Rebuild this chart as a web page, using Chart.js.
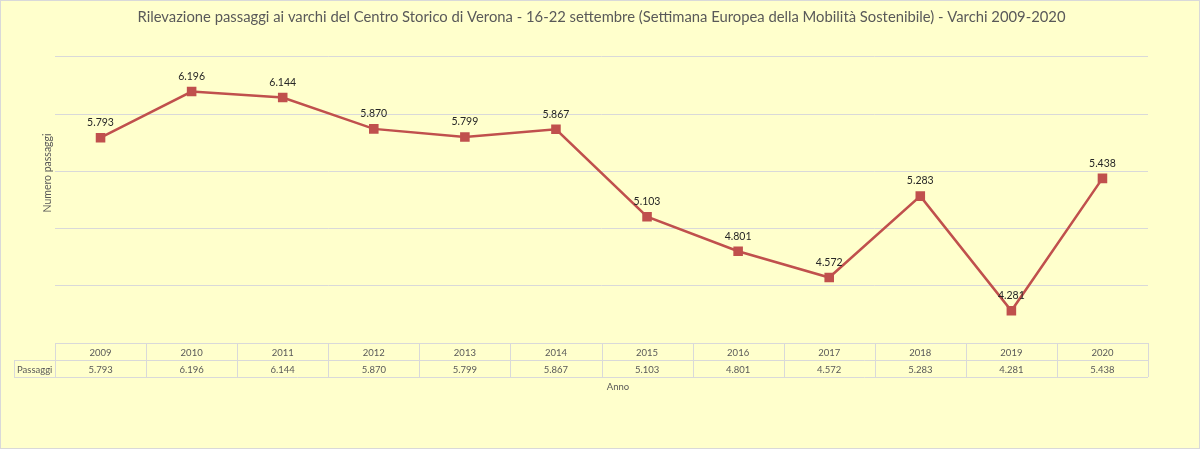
<!DOCTYPE html>
<html lang="it">
<head>
    <meta charset="UTF-8">
    <title>Varchi Centro Storico Verona</title>
    <script src="https://cdn.jsdelivr.net/npm/chart.js"></script>
    <style>
        html, body { margin: 0; padding: 0; background: #ffffcc; }
        #wrap { width: 1200px; height: 449px; }
    </style>
</head>
<body>
    <div id="wrap"><canvas id="varchiChart"></canvas></div>

    <script>
        // dati
        const anni = ["2009", "2010", "2011", "2012", "2013", "2014", "2015", "2016", "2017", "2018", "2019", "2020"];
        const passaggi = [5793, 6196, 6144, 5870, 5799, 5867, 5103, 4801, 4572, 5283, 4281, 5438];
        const nomeSerie = "Passaggi";
        const titolo = "Rilevazione passaggi ai varchi del Centro Storico di Verona - 16-22 settembre (Settimana Europea della Mobilità Sostenibile) - Varchi 2009-2020";
        const titoloY = "Numero passaggi";
        const titoloX = "Anno";

        const FONT = "Lato, 'Open Sans', sans-serif";
        const GRIGIO = "#595959";
        const LINEE = "#d9d9d9";

        function formatta(n) {
            return String(n).replace(/\B(?=(\d{3})+(?!\d))/g, ".");
        }

        // sfondo, bordo esterno e titolo asse Y (spostato in alto come nell'originale)
        const sfondo = {
            id: "sfondo",
            beforeDraw(chart) {
                const c = chart.ctx;
                c.save();
                c.fillStyle = "#ffffcc";
                c.fillRect(0, 0, chart.width, chart.height);
                c.strokeStyle = LINEE;
                c.lineWidth = 1;
                c.strokeRect(0.5, 0.5, chart.width - 1, chart.height - 1);

                c.translate(48, 173);
                c.rotate(-Math.PI / 2);
                c.font = "10.5px " + FONT;
                c.fillStyle = GRIGIO;
                c.textAlign = "center";
                c.textBaseline = "middle";
                c.fillText(titoloY, 0, 0);
                c.restore();
            }
        };

        // etichette sopra i punti
        const etichette = {
            id: "etichette",
            afterDatasetsDraw(chart) {
                const c = chart.ctx;
                const meta = chart.getDatasetMeta(0);
                c.save();
                c.font = "10.5px " + FONT;
                c.fillStyle = "#262626";
                c.textAlign = "center";
                c.textBaseline = "middle";
                meta.data.forEach((p, i) => {
                    c.fillText(formatta(passaggi[i]), p.x, p.y - 15);
                });
                c.restore();
            }
        };

        // tabella dati sotto il grafico
        const tabella = {
            id: "tabella",
            afterDraw(chart) {
                const c = chart.ctx;
                const x = chart.scales.x;
                const area = chart.chartArea;
                const w = x.getPixelForValue(1) - x.getPixelForValue(0);
                const top = area.bottom;
                const h = 17;
                const left = x.getPixelForValue(0) - w / 2;
                const right = x.getPixelForValue(anni.length - 1) + w / 2;
                const labelLeft = 14;

                c.save();
                c.strokeStyle = LINEE;
                c.lineWidth = 1;
                c.beginPath();
                c.moveTo(left, top + 0.5); c.lineTo(right, top + 0.5);
                c.moveTo(labelLeft, top + h + 0.5); c.lineTo(right, top + h + 0.5);
                c.moveTo(labelLeft, top + 2 * h + 0.5); c.lineTo(right, top + 2 * h + 0.5);
                c.moveTo(labelLeft + 0.5, top + h); c.lineTo(labelLeft + 0.5, top + 2 * h);
                for (let i = 0; i <= anni.length; i++) {
                    const px = Math.round(left + i * w) + 0.5;
                    c.moveTo(px, top); c.lineTo(px, top + 2 * h);
                }
                c.stroke();

                c.font = "9.5px " + FONT;
                c.fillStyle = GRIGIO;
                c.textAlign = "center";
                c.textBaseline = "middle";
                anni.forEach((a, i) => {
                    const px = x.getPixelForValue(i);
                    c.fillText(a, px, top + h / 2 + 1);
                    c.fillText(formatta(passaggi[i]), px, top + h * 1.5 + 1);
                });
                c.textAlign = "left";
                c.fillText(nomeSerie, labelLeft + 3, top + h * 1.5 + 1);

                c.textAlign = "center";
                c.fillText(titoloX, 618, top + 2 * h + 10);
                c.restore();
            }
        };

        const ctx = document.getElementById("varchiChart").getContext("2d");
        new Chart(ctx, {
            type: "line",
            data: {
                labels: anni,
                datasets: [{
                    label: nomeSerie,
                    data: passaggi,
                    borderColor: "#c0504d",
                    backgroundColor: "#c0504d",
                    borderWidth: 2.5,
                    pointStyle: "rect",
                    pointRadius: 5,
                    pointHoverRadius: 5,
                    tension: 0
                }]
            },
            options: {
                responsive: true,
                maintainAspectRatio: false,
                animation: false,
                layout: { padding: { left: 55, right: 52, top: 0, bottom: 106 } },
                plugins: {
                    legend: { display: false },
                    tooltip: { enabled: false },
                    title: {
                        display: true,
                        text: titolo,
                        color: GRIGIO,
                        font: { family: FONT, size: 14.8, weight: "normal" },
                        padding: { top: 8, bottom: 31 }
                    }
                },
                scales: {
                    x: {
                        display: false,
                        offset: true
                    },
                    y: {
                        min: 4000,
                        max: 6500,
                        ticks: { display: false, stepSize: 500 },
                        border: { display: false },
                        grid: { color: LINEE, drawTicks: false }
                    }
                }
            },
            plugins: [sfondo, etichette, tabella]
        });
    </script>
</body>
</html>
